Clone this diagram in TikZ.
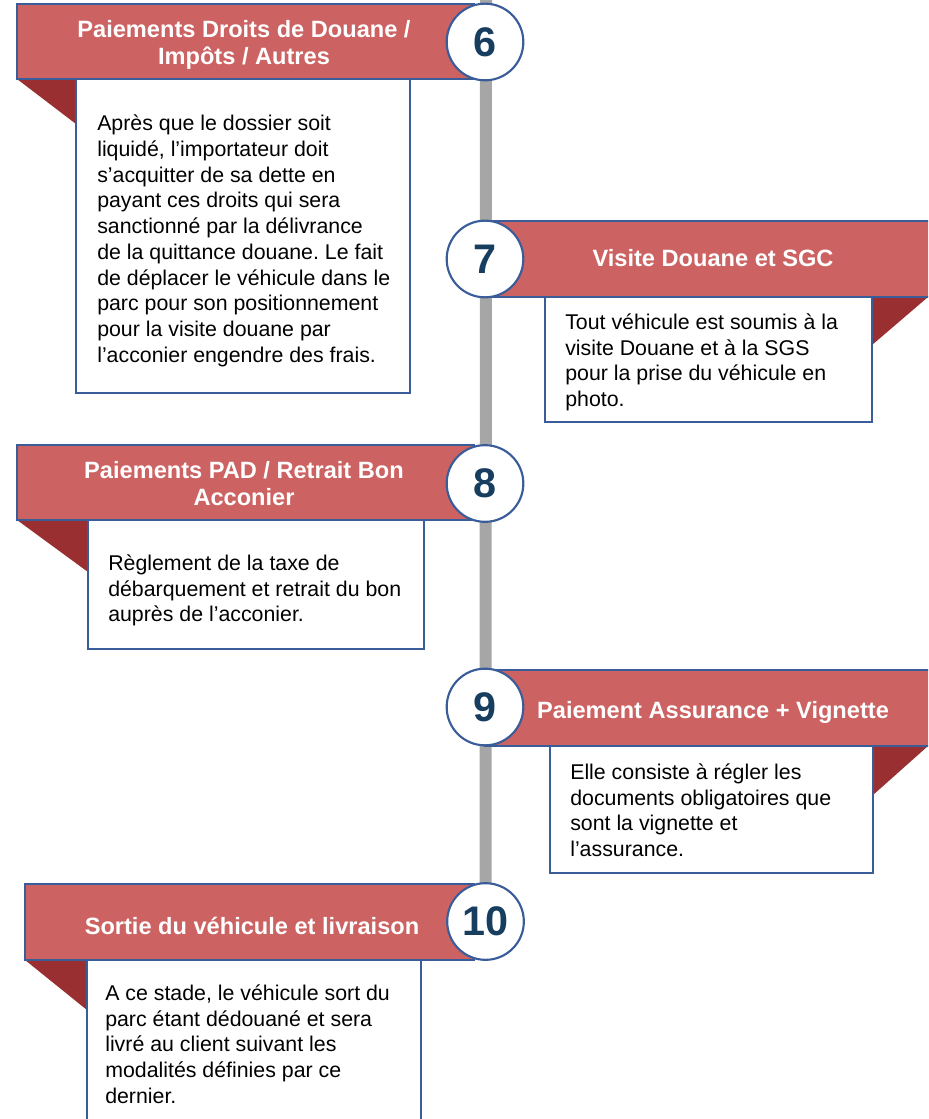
\documentclass[tikz,border=0pt]{standalone}
\usepackage{fontspec}
\setmainfont{Liberation Sans}
\usetikzlibrary{backgrounds}
\frenchspacing

\definecolor{bannerred}{HTML}{CD6262}
\definecolor{folddark}{HTML}{9A2F31}
\definecolor{edgeblue}{HTML}{3A5D9A}
\definecolor{numblue}{HTML}{173D5F}
\definecolor{linegray}{HTML}{A6A6A6}

\tikzset{
  banner/.style={fill=bannerred,draw=edgeblue,line width=1.2pt},
  fold/.style={fill=folddark},
  bodybox/.style={fill=white,draw=edgeblue,line width=1.4pt},
  stepnum/.style={circle,fill=white,draw=edgeblue,line width=1.6pt,minimum size=57.5pt,
    inner sep=0pt,text=numblue,font=\fontsize{31}{31}\selectfont\bfseries},
  steptitle/.style={text=white,align=center,inner sep=0pt,font=\fontsize{17.7}{20.5}\selectfont\bfseries},
  steptext/.style={anchor=north west,inner sep=0pt,align=left,font=\fontsize{16}{19.3}\selectfont}
}

\begin{document}
\begin{tikzpicture}[x=0.75pt,y=-0.75pt]
  \clip (0,0) rectangle (928,1119);

  % step 6
  \fill[fold] (17,79)--(76,79)--(76,124)--cycle;
  \draw[banner] (17,4) rectangle (474,79);
  \draw[bodybox] (76,79) rectangle (410,393);
  \node[steptitle] (title6) at (244,45) {Paiements Droits de Douane /\\Impôts / Autres};
  \node[steptext] (text6) at (97,112.5) {\strut Après que le dossier soit\\
    liquidé, l’importateur doit\\s’acquitter de sa dette en\\payant ces droits qui sera\\
    sanctionné par la délivrance\\de la quittance douane. Le fait\\de déplacer le véhicule dans le\\
    parc pour son positionnement\\pour la visite douane par\\l’acconier engendre des frais.};
  \node[stepnum] (n6) at (485,42) {6};

  % step 7
  \fill[fold] (872,297)--(928,297)--(872,345)--cycle;
  \draw[banner] (485,221) rectangle (945,297);
  \draw[bodybox] (545,297) rectangle (872,422);
  \node[steptitle,anchor=base] (title7) at (713,267) {Visite Douane et SGC};
  \node[steptext] (text7) at (565,311) {\strut Tout véhicule est soumis à la\\
    visite Douane et à la SGS\\pour la prise du véhicule en\\photo.};
  \node[stepnum] (n7) at (485,259) {7};

  % step 8
  \fill[fold] (17,520)--(88,520)--(88,572)--cycle;
  \draw[banner] (17,445) rectangle (474,520);
  \draw[bodybox] (88,520) rectangle (424,649);
  \node[steptitle] (title8) at (244,483.5) {Paiements PAD / Retrait Bon\\Acconier};
  \node[steptext] (text8) at (108,552) {\strut Règlement de la taxe de\\
    débarquement et retrait du bon\\auprès de l’acconier.};
  \node[stepnum] (n8) at (485,483.5) {8};

  % step 9
  \fill[fold] (873,746)--(928,746)--(873,795)--cycle;
  \draw[banner] (485,670) rectangle (945,746);
  \draw[bodybox] (550,746) rectangle (873,873);
  \node[steptitle,anchor=base] (title9) at (713,718) {Paiement Assurance + Vignette};
  \node[steptext] (text9) at (570,761) {\strut Elle consiste à régler les\\
    documents obligatoires que\\sont la vignette et\\l’assurance.};
  \node[stepnum] (n9) at (485,707) {9};

  % step 10
  \fill[fold] (25,960)--(87,960)--(87,1010)--cycle;
  \draw[banner] (25,884) rectangle (474,960);
  \draw[bodybox] (87,960) rectangle (421,1140);
  \node[steptitle,anchor=base] (title10) at (252,934) {Sortie du véhicule et livraison};
  \node[steptext] (text10) at (105,982) {\strut A ce stade, le véhicule sort du\\
    parc étant dédouané et sera\\livré au client suivant les\\
    modalités définies par ce\\dernier.};
  \node[stepnum] (n10) at (485.5,921.5) {10};

  % timeline
  \coordinate (top) at (486,-5);
  \begin{scope}[on background layer]
    \draw[linegray,line width=9pt] (top) -- (n10.center);
  \end{scope}
\end{tikzpicture}
\end{document}
